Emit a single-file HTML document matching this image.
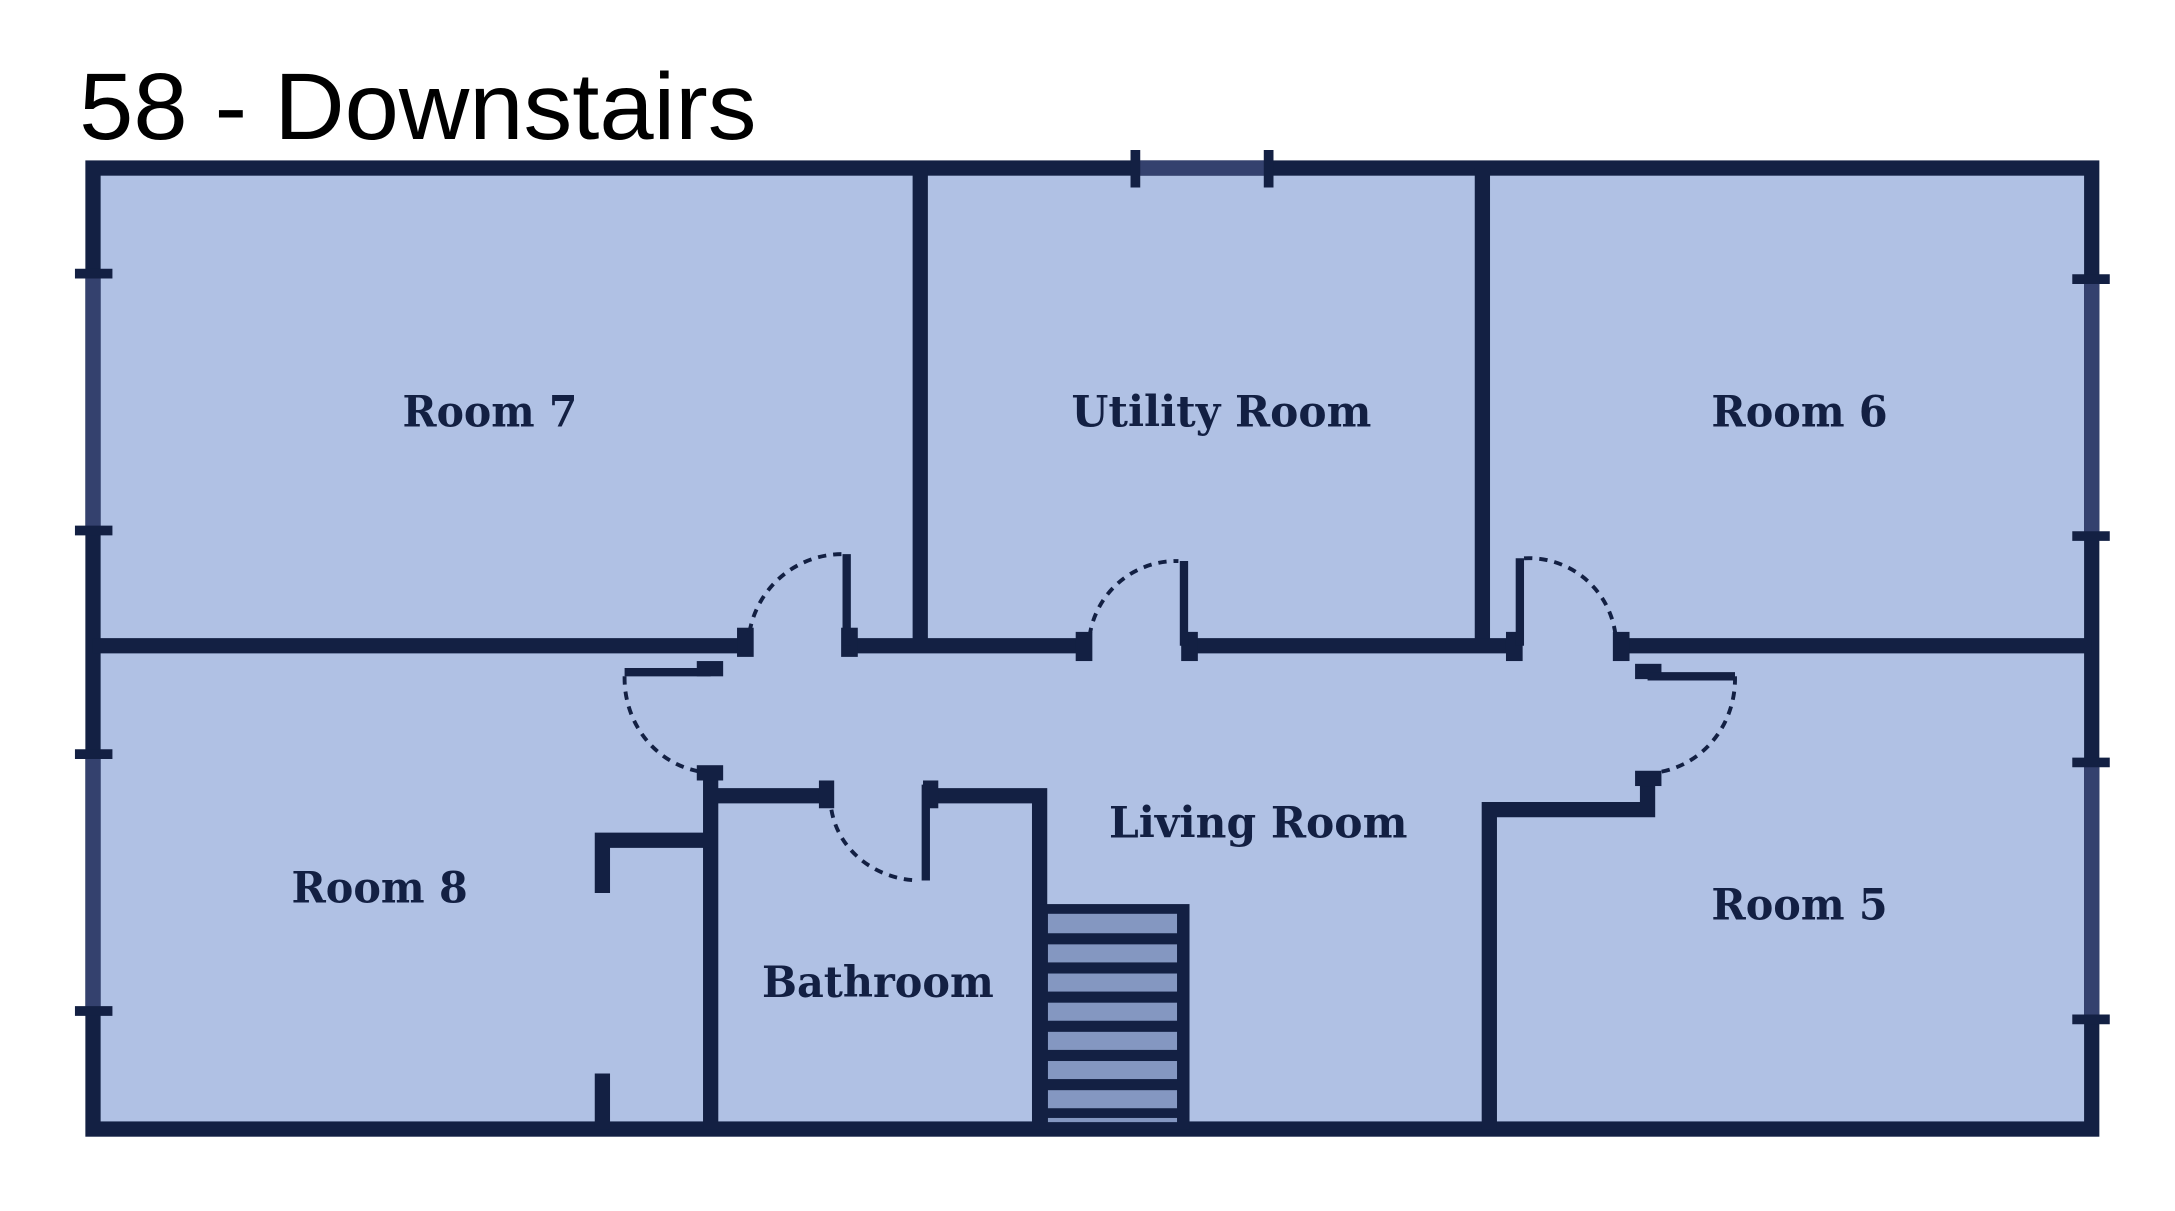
<!DOCTYPE html>
<html><head><meta charset="utf-8"><style>html,body{margin:0;padding:0;background:#fff}svg{display:block}</style></head>
<body>
<svg width="2175" height="1211" viewBox="0 0 1567 872" preserveAspectRatio="none" xmlns="http://www.w3.org/2000/svg">
<text x="57" y="100" font-family="Liberation Sans, sans-serif" font-size="68" fill="#000" textLength="488" lengthAdjust="spacingAndGlyphs">58 - Downstairs</text>
<rect x="67" y="121" width="1440" height="692" fill="#b0c1e4"/>
<g fill="none" stroke="#132043" stroke-width="11">
<rect x="67" y="121" width="1440" height="692"/>
<line x1="663" y1="121" x2="663" y2="465"/>
<line x1="1068" y1="121" x2="1068" y2="465"/>
<line x1="67" y1="465" x2="537" y2="465"/>
<line x1="612" y1="465" x2="780" y2="465"/>
<line x1="857" y1="465" x2="1090" y2="465"/>
<line x1="1168" y1="465" x2="1507" y2="465"/>
<polyline points="1187,560 1187,583 1073,583 1073,813"/>
<line x1="512" y1="557" x2="512" y2="813"/>
<polyline points="512,605 434,605 434,643"/>
<line x1="434" y1="773" x2="434" y2="813"/>
<line x1="512" y1="573" x2="595" y2="573"/>
<polyline points="670,573 749,573 749,813"/>
</g>
<g stroke="#34416e" stroke-width="11">
<line x1="67" y1="197" x2="67" y2="382"/>
<line x1="67" y1="543" x2="67" y2="728"/>
<line x1="1507" y1="201" x2="1507" y2="386"/>
<line x1="1507" y1="549" x2="1507" y2="734"/>
<line x1="818" y1="121" x2="914" y2="121"/>
</g>
<g stroke="#132043" stroke-width="7">
<line x1="54" y1="197" x2="81" y2="197"/><line x1="54" y1="382" x2="81" y2="382"/>
<line x1="54" y1="543" x2="81" y2="543"/><line x1="54" y1="728" x2="81" y2="728"/>
<line x1="1493" y1="201" x2="1520" y2="201"/><line x1="1493" y1="386" x2="1520" y2="386"/>
<line x1="1493" y1="549" x2="1520" y2="549"/><line x1="1493" y1="734" x2="1520" y2="734"/>
<line x1="818" y1="108" x2="818" y2="135"/><line x1="914" y1="108" x2="914" y2="135"/>
</g>
<g fill="#132043">
<rect x="531" y="452" width="12" height="21"/>
<rect x="606" y="452" width="12" height="21"/>
<rect x="775" y="455" width="12" height="21"/>
<rect x="851" y="455" width="12" height="21"/>
<rect x="1085" y="455" width="12" height="21"/>
<rect x="1162" y="455" width="12" height="21"/>
<rect x="1178" y="478" width="19" height="11"/>
<rect x="1178" y="555" width="19" height="11"/>
<rect x="502" y="476" width="19" height="11"/>
<rect x="502" y="551" width="19" height="11"/>
<rect x="590" y="562" width="11" height="20"/>
<rect x="665" y="562" width="11" height="20"/>
</g>
<g stroke="#132043" stroke-width="6" fill="none">
<line x1="610" y1="399" x2="610" y2="465"/>
<line x1="853" y1="404" x2="853" y2="465"/>
<line x1="1095" y1="402" x2="1095" y2="465"/>
<line x1="1187" y1="487" x2="1250" y2="487"/>
<line x1="450" y1="484" x2="512" y2="484"/>
<line x1="667" y1="565" x2="667" y2="634"/>
</g>
<g stroke="#132043" stroke-width="2.8" fill="none" stroke-dasharray="6,5">
<path d="M540,455 A68,68 0 0 1 607,399"/>
<path d="M785,458 A63,63 0 0 1 849,404"/>
<path d="M1098,402 A63,63 0 0 1 1164,458"/>
<path d="M1250,487 A65,68 0 0 1 1195,556"/>
<path d="M450,487 A65,68 0 0 0 507,556"/>
<path d="M599,583 A65,60 0 0 0 662,634"/>
</g>
<rect x="749" y="651" width="108" height="162" fill="#132043"/>
<g fill="#8497c1">
<rect x="755" y="658" width="93" height="14"/>
<rect x="755" y="680" width="93" height="13"/>
<rect x="755" y="701" width="93" height="13"/>
<rect x="755" y="722" width="93" height="13"/>
<rect x="755" y="743" width="93" height="13"/>
<rect x="755" y="764" width="93" height="13"/>
<rect x="755" y="785" width="93" height="13"/>
<rect x="755" y="805" width="93" height="3"/>
</g>
<g font-family="DejaVu Serif, Liberation Serif, serif" font-weight="bold" font-size="31" fill="#132043">
<text x="290" y="307" textLength="126" lengthAdjust="spacingAndGlyphs">Room 7</text>
<text x="772" y="307" textLength="216" lengthAdjust="spacingAndGlyphs">Utility Room</text>
<text x="1233" y="307" textLength="127" lengthAdjust="spacingAndGlyphs">Room 6</text>
<text x="799" y="603" textLength="215" lengthAdjust="spacingAndGlyphs">Living Room</text>
<text x="210" y="650" textLength="127" lengthAdjust="spacingAndGlyphs">Room 8</text>
<text x="1233" y="662" textLength="127" lengthAdjust="spacingAndGlyphs">Room 5</text>
<text x="549" y="718" textLength="167" lengthAdjust="spacingAndGlyphs">Bathroom</text>
</g>
</svg>
</body></html>
